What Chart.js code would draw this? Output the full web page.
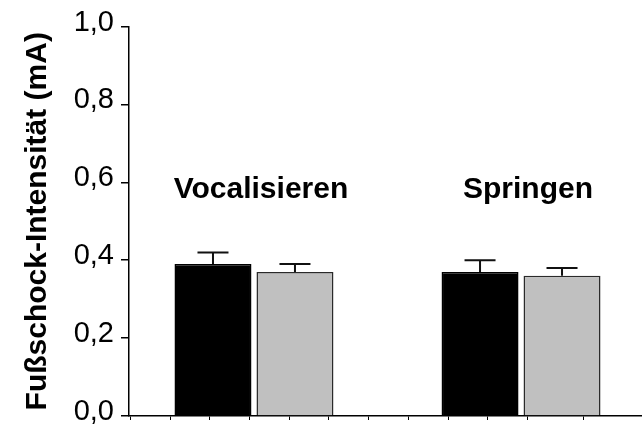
<!DOCTYPE html>
<html>
<head>
<meta charset="utf-8">
<script src="https://cdn.jsdelivr.net/npm/chart.js@4/dist/chart.umd.min.js"></script>
<style>
  html, body { margin: 0; padding: 0; background: #fff; }
  #wrap { width: 642px; height: 428px; position: relative; }
</style>
</head>
<body>
<div id="wrap"><canvas id="chart"></canvas></div>
<script>
// Foot-shock threshold per behaviour, two groups (black / grey), mean ± SEM
const categories = ['Vocalisieren', 'Springen'];
const valuesBlack = [0.39, 0.37];
const valuesGrey = [0.37, 0.36];
const semBlack = [0.03, 0.03];
const semGrey = [0.02, 0.02];
const yTickLabels = ['0,0', '0,2', '0,4', '0,6', '0,8', '1,0'];
const yTitle = 'Fußschock-Intensität (mA)';

const FONT = "'Liberation Sans', Arial, Helvetica, sans-serif";

// error bars drawn on top of each bar, through the y scale
const errorBars = {
  id: 'errorBars',
  afterDatasetsDraw(chart) {
    const ctx = chart.ctx;
    const y = chart.scales.y;
    chart.data.datasets.forEach((ds, di) => {
      const meta = chart.getDatasetMeta(di);
      meta.data.forEach((bar, i) => {
        const v = ds.data[i].y;
        const e = ds.errors[i];
        const yTop = y.getPixelForValue(v + e);
        const yBar = y.getPixelForValue(v);
        ctx.save();
        ctx.strokeStyle = '#111';
        ctx.lineWidth = 2;
        ctx.beginPath();
        ctx.moveTo(bar.x, yBar);
        ctx.lineTo(bar.x, yTop);
        ctx.moveTo(bar.x - 15.5, yTop);
        ctx.lineTo(bar.x + 15.5, yTop);
        ctx.stroke();
        ctx.restore();
      });
    });
  }
};

// behaviour names written above each group of bars
const groupLabels = {
  id: 'groupLabels',
  afterDatasetsDraw(chart) {
    const ctx = chart.ctx;
    const x = chart.scales.x;
    const y = chart.scales.y;
    ctx.save();
    ctx.fillStyle = '#000';
    ctx.font = 'bold 30px ' + FONT;
    ctx.textAlign = 'center';
    ctx.textBaseline = 'alphabetic';
    categories.forEach((c, i) => {
      ctx.fillText(c, x.getPixelForValue(i) + 7, y.getPixelForValue(0.559));
    });
    ctx.restore();
  }
};

new Chart(document.getElementById('chart'), {
  type: 'bar',
  data: {
    datasets: [
      {
        label: 'Gruppe 1',
        data: categories.map((c, i) => ({ x: i, y: valuesBlack[i] })),
        errors: semBlack,
        backgroundColor: '#000000',
        borderColor: '#000000',
        borderWidth: 1.5
      },
      {
        label: 'Gruppe 2',
        data: categories.map((c, i) => ({ x: i, y: valuesGrey[i] })),
        errors: semGrey,
        backgroundColor: '#c0c0c0',
        borderColor: '#2a2a2a',
        borderWidth: 1.5
      }
    ]
  },
  options: {
    responsive: true,
    maintainAspectRatio: false,
    animation: false,
    devicePixelRatio: 1,
    categoryPercentage: 0.614,
    barPercentage: 0.939,
    layout: { padding: { top: 26.5, right: 0, bottom: 0, left: 0 } },
    plugins: {
      legend: { display: false },
      tooltip: { enabled: false }
    },
    scales: {
      x: {
        type: 'linear',
        display: false,
        min: -0.468,
        max: 1.453,
        offset: false,
        ticks: { stepSize: 1, includeBounds: false }
      },
      xTicks: {
        type: 'linear',
        position: 'bottom',
        min: 0,
        max: 11.85,
        ticks: { stepSize: 1, display: false },
        grid: {
          drawOnChartArea: false,
          drawTicks: true,
          tickLength: 4,
          color: '#000',
          lineWidth: 1
        },
        border: { display: true, color: '#000', width: 1.5 },
        afterFit(scale) { scale.height = 12; }
      },
      y: {
        type: 'linear',
        min: 0,
        max: 1,
        ticks: {
          stepSize: 0.2,
          color: '#000',
          padding: 7,
          labelOffset: -4,
          font: { family: FONT, size: 29, lineHeight: 0.8 },
          callback: (v, i) => yTickLabels[i]
        },
        grid: {
          drawOnChartArea: false,
          drawTicks: true,
          tickLength: 8,
          color: '#000',
          lineWidth: 1.5
        },
        border: { display: true, color: '#000', width: 1.5 },
        title: {
          display: true,
          text: yTitle,
          color: '#000',
          font: { family: FONT, size: 30, weight: 'bold', lineHeight: 1.2 },
          padding: { top: 20, bottom: 18 }
        },
        afterFit(scale) {
          scale.width = 129;
          scale.paddingTop = 0;
          scale.paddingBottom = 0;
        }
      }
    }
  },
  plugins: [errorBars, groupLabels]
});
</script>
</body>
</html>
